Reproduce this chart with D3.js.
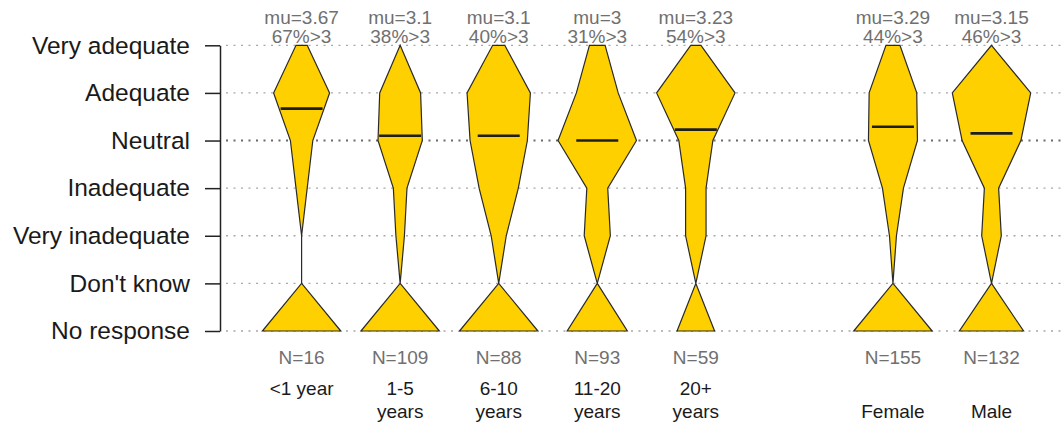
<!DOCTYPE html>
<html><head><meta charset="utf-8">
<script src="https://cdn.jsdelivr.net/npm/d3@7"></script>
<style>
html,body{margin:0;padding:0;background:#fff;}
svg{display:block;font-family:"Liberation Sans",Arial,Helvetica,sans-serif;}
</style></head>
<body><svg id="chart" width="1063" height="425"></svg>
<script>
// ---- data ----
const groups = ["<1 year", "1-5 years", "6-10 years", "11-20 years", "20+ years", "Female", "Male"];
const groupLabelLines = [["<1 year"], ["1-5", "years"], ["6-10", "years"], ["11-20", "years"], ["20+", "years"], ["", "Female"], ["", "Male"]];
const slots = ["<1 year", "1-5 years", "6-10 years", "11-20 years", "20+ years", "gap", "Female", "Male"];
const levels = ["Very adequate", "Adequate", "Neutral", "Inadequate", "Very inadequate", "Don't know", "No response"];
const levelValues = [5, 4, 3, 2, 1, 0, -1];
const veryAdequate   = [1, 0, 4, 6, 3, 10, 0];
const adequate       = [5, 24, 21, 16, 23, 34, 44];
const neutral        = [2, 26, 19, 30, 10, 35, 33];
const inadequate     = [1, 8, 13, 8, 6, 15, 8];
const veryInadequate = [0, 5, 5, 10, 6, 5, 11];
const dontKnow       = [0, 0, 0, 0, 0, 0, 0];
const noResponse     = [7, 46, 26, 23, 11, 56, 36];
const means     = [3.67, 3.1, 3.1, 3, 3.23, 3.29, 3.15];
const muLabels  = ["3.67", "3.1", "3.1", "3", "3.23", "3.29", "3.15"];
const pctAbove3 = [67, 38, 40, 31, 54, 44, 46];
const nTotal    = [16, 109, 88, 93, 59, 155, 132];

// ---- layout ----
const svg = d3.select("#chart");
const y = d3.scaleLinear().domain([-1, 5]).range([331, 45.3]);
const x = d3.scalePoint().domain(slots).range([301.6, 991.5]);
const maxHalf = 39.2;
const fill = "#ffd000";

// gridlines
svg.append("g").selectAll("line").data(levelValues).join("line")
  .attr("x1", 226).attr("x2", 1063)
  .attr("y1", d => y(d)).attr("y2", d => y(d))
  .attr("stroke", d => d === 3 ? "#6a6a6a" : "#a8a8a8")
  .attr("stroke-width", d => d === 3 ? 2 : 1.3)
  .attr("stroke-dasharray", "2,5.5");

// axis
const axis = d3.axisLeft(y).tickValues(levelValues)
  .tickFormat(d => levels[levelValues.indexOf(d)])
  .tickSize(15).tickSizeOuter(0).tickPadding(15);
const ax = svg.append("g").attr("transform", "translate(220,0)").call(axis);
ax.select(".domain").attr("stroke", "#222").attr("stroke-width", 1.5);
ax.selectAll(".tick line").attr("stroke", "#222").attr("stroke-width", 1.5);
ax.selectAll(".tick text").attr("font-size", 24.5).attr("fill", "#1a1a1a")
  .attr("font-family", "Liberation Sans, Arial, sans-serif");

// violins
const series = [veryAdequate, adequate, neutral, inadequate, veryInadequate, dontKnow, noResponse];
groups.forEach((g, i) => {
  const counts = series.map(s => s[i]);
  const w = d3.scaleLinear().domain([0, d3.max(counts)]).range([0, maxHalf]);
  const cx = x(g);
  const right = levelValues.map((v, k) => [cx + w(counts[k]), y(v)]);
  const left = levelValues.map((v, k) => [cx - w(counts[k]), y(v)]).reverse();
  const pts = right.concat(left);
  svg.append("path")
    .attr("d", d3.line().curve(d3.curveLinearClosed)(pts))
    .attr("fill", fill).attr("stroke", "#2a2a2a").attr("stroke-width", 1.2)
    .attr("stroke-linejoin", "miter");
  // mean line
  const m = means[i];
  const lo = Math.floor(m), hi = lo + 1;
  const cLo = counts[levelValues.indexOf(lo)], cHi = counts[levelValues.indexOf(hi)] ?? cLo;
  const cAt = cLo + (cHi - cLo) * (m - lo);
  const hw = Math.min(21, w(cAt));
  svg.append("line")
    .attr("x1", cx - hw).attr("x2", cx + hw)
    .attr("y1", y(m)).attr("y2", y(m))
    .attr("stroke", "#1e1e1e").attr("stroke-width", 2.6);
  // top labels
  svg.append("text").attr("x", cx).attr("y", 23.5).attr("text-anchor", "middle")
    .attr("font-size", 19).attr("fill", "#707070").text("mu=" + muLabels[i]);
  svg.append("text").attr("x", cx).attr("y", 42.5).attr("text-anchor", "middle")
    .attr("font-size", 19).attr("fill", "#707070").text(pctAbove3[i] + "%>3");
  // N labels
  svg.append("text").attr("x", cx).attr("y", 364).attr("text-anchor", "middle")
    .attr("font-size", 19).attr("fill", "#707070").text("N=" + nTotal[i]);
  // category labels
  groupLabelLines[i].forEach((t, j) => {
    if (!t) return;
    svg.append("text").attr("x", cx).attr("y", 395 + j * 22.5).attr("text-anchor", "middle")
      .attr("font-size", 19).attr("fill", "#1a1a1a").text(t);
  });
});
</script></body></html>
